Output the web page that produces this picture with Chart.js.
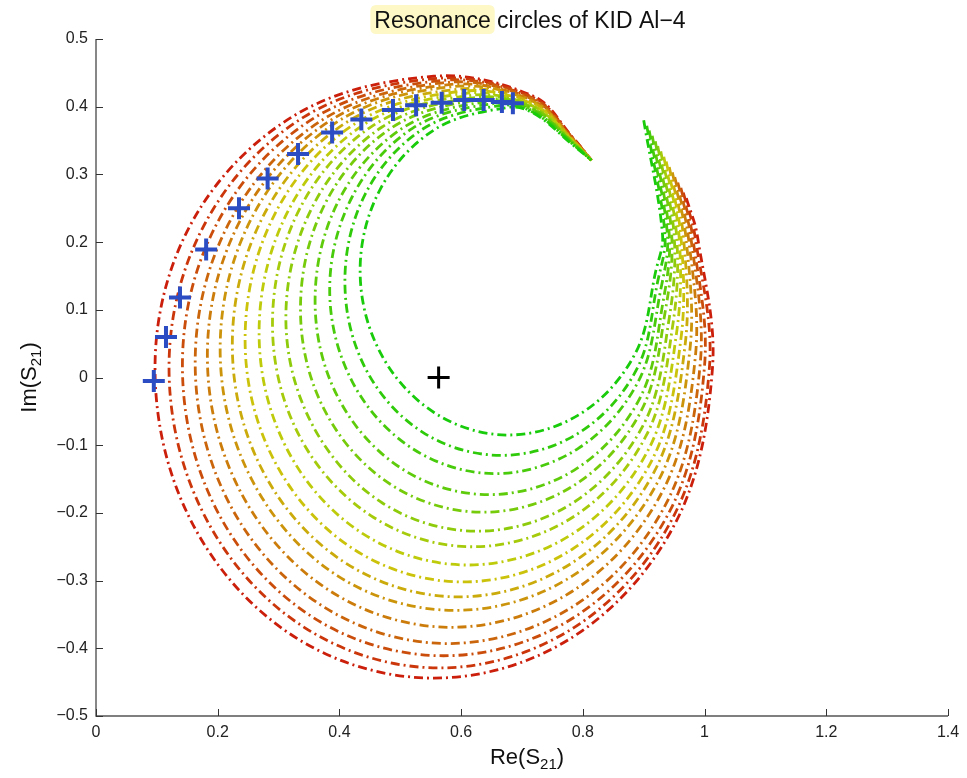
<!DOCTYPE html>
<html>
<head>
<meta charset="utf-8">
<title>Resonance circles of KID Al-4</title>
<script src="https://cdn.jsdelivr.net/npm/chart.js@4.4.1/dist/chart.umd.min.js"></script>
<style>
  html, body { margin: 0; padding: 0; background: #fff; }
  #wrap { width: 967px; height: 778px; }
</style>
</head>
<body>
<div id="wrap"><canvas id="chart" width="967" height="778"></canvas></div>
<script>
// Resonance circles, outer (red) to inner (green)
const circleX = [
  [0.970, 0.988, 1.013, 0.952, 0.784, 0.555, 0.326, 0.158, 0.097, 0.158, 0.326, 0.555, 0.720, 0.783, 0.814],
  [0.965, 0.984, 1.008, 0.948, 0.786, 0.564, 0.342, 0.180, 0.120, 0.180, 0.342, 0.564, 0.720, 0.783, 0.814],
  [0.961, 0.980, 1.000, 0.943, 0.786, 0.571, 0.356, 0.199, 0.142, 0.199, 0.356, 0.571, 0.720, 0.783, 0.814],
  [0.956, 0.977, 0.993, 0.937, 0.786, 0.578, 0.371, 0.219, 0.163, 0.219, 0.371, 0.578, 0.720, 0.783, 0.814],
  [0.951, 0.973, 0.985, 0.931, 0.784, 0.584, 0.384, 0.237, 0.183, 0.237, 0.384, 0.584, 0.720, 0.783, 0.814],
  [0.947, 0.969, 0.976, 0.925, 0.783, 0.590, 0.397, 0.256, 0.204, 0.256, 0.397, 0.590, 0.720, 0.783, 0.814],
  [0.942, 0.965, 0.968, 0.918, 0.782, 0.596, 0.410, 0.274, 0.224, 0.274, 0.410, 0.596, 0.720, 0.783, 0.814],
  [0.937, 0.961, 0.961, 0.913, 0.782, 0.603, 0.424, 0.293, 0.245, 0.293, 0.424, 0.603, 0.720, 0.783, 0.814],
  [0.933, 0.958, 0.954, 0.908, 0.783, 0.611, 0.439, 0.314, 0.268, 0.314, 0.439, 0.611, 0.720, 0.783, 0.814],
  [0.928, 0.954, 0.948, 0.904, 0.784, 0.619, 0.455, 0.334, 0.290, 0.334, 0.455, 0.619, 0.720, 0.783, 0.814],
  [0.923, 0.950, 0.942, 0.900, 0.784, 0.627, 0.470, 0.355, 0.312, 0.355, 0.470, 0.627, 0.720, 0.783, 0.814],
  [0.919, 0.946, 0.936, 0.896, 0.786, 0.636, 0.486, 0.376, 0.336, 0.376, 0.486, 0.636, 0.720, 0.783, 0.814],
  [0.914, 0.942, 0.932, 0.894, 0.789, 0.646, 0.503, 0.398, 0.360, 0.398, 0.503, 0.646, 0.720, 0.783, 0.814],
  [0.909, 0.939, 0.928, 0.891, 0.792, 0.656, 0.520, 0.421, 0.384, 0.421, 0.520, 0.656, 0.720, 0.783, 0.814],
  [0.905, 0.935, 0.923, 0.889, 0.795, 0.666, 0.537, 0.443, 0.409, 0.443, 0.537, 0.666, 0.720, 0.783, 0.814],
  [0.900, 0.931, 0.920, 0.887, 0.799, 0.677, 0.556, 0.467, 0.434, 0.467, 0.556, 0.677, 0.720, 0.783, 0.814]
];
const circleY = [
  [0.265, 0.210, 0.014, -0.215, -0.383, -0.444, -0.383, -0.215, 0.014, 0.230, 0.387, 0.445, 0.415, 0.355, 0.321],
  [0.273, 0.210, 0.015, -0.207, -0.369, -0.429, -0.369, -0.207, 0.015, 0.229, 0.385, 0.442, 0.413, 0.354, 0.321],
  [0.280, 0.210, 0.018, -0.197, -0.354, -0.411, -0.354, -0.197, 0.018, 0.228, 0.382, 0.439, 0.412, 0.354, 0.321],
  [0.288, 0.210, 0.022, -0.186, -0.337, -0.393, -0.337, -0.186, 0.022, 0.229, 0.380, 0.436, 0.410, 0.353, 0.321],
  [0.296, 0.210, 0.032, -0.168, -0.315, -0.369, -0.315, -0.168, 0.032, 0.232, 0.379, 0.433, 0.408, 0.352, 0.321],
  [0.303, 0.210, 0.042, -0.151, -0.293, -0.344, -0.293, -0.151, 0.042, 0.236, 0.378, 0.430, 0.407, 0.352, 0.321],
  [0.311, 0.210, 0.048, -0.138, -0.274, -0.324, -0.274, -0.138, 0.048, 0.237, 0.376, 0.426, 0.405, 0.351, 0.321],
  [0.319, 0.210, 0.056, -0.123, -0.254, -0.302, -0.254, -0.123, 0.056, 0.240, 0.374, 0.423, 0.403, 0.350, 0.321],
  [0.326, 0.210, 0.066, -0.106, -0.231, -0.277, -0.231, -0.106, 0.066, 0.243, 0.373, 0.420, 0.401, 0.349, 0.321],
  [0.334, 0.210, 0.079, -0.086, -0.206, -0.250, -0.206, -0.086, 0.079, 0.248, 0.372, 0.417, 0.400, 0.349, 0.321],
  [0.342, 0.210, 0.088, -0.069, -0.185, -0.227, -0.185, -0.069, 0.088, 0.251, 0.370, 0.414, 0.398, 0.348, 0.321],
  [0.349, 0.210, 0.101, -0.049, -0.159, -0.199, -0.159, -0.049, 0.101, 0.256, 0.369, 0.411, 0.396, 0.347, 0.321],
  [0.357, 0.210, 0.113, -0.030, -0.135, -0.173, -0.135, -0.030, 0.113, 0.260, 0.368, 0.408, 0.395, 0.347, 0.321],
  [0.365, 0.210, 0.130, -0.006, -0.105, -0.142, -0.105, -0.006, 0.130, 0.267, 0.368, 0.405, 0.393, 0.346, 0.321],
  [0.372, 0.210, 0.142, 0.013, -0.081, -0.115, -0.081, 0.013, 0.142, 0.272, 0.367, 0.402, 0.391, 0.345, 0.321],
  [0.380, 0.210, 0.158, 0.037, -0.052, -0.085, -0.052, 0.037, 0.158, 0.278, 0.366, 0.399, 0.390, 0.344, 0.321]
];

// Resonance points (blue +) and circle centre (black +)
const crossX = [0.095, 0.115, 0.138, 0.181, 0.235, 0.282, 0.332, 0.388, 0.436, 0.488, 0.526, 0.568, 0.605, 0.637, 0.667, 0.685];
const crossY = [-0.005, 0.060, 0.118, 0.189, 0.250, 0.294, 0.330, 0.362, 0.381, 0.395, 0.402, 0.406, 0.410, 0.410, 0.407, 0.405];
const centerX = [0.563];
const centerY = [0];

const xTickValues = [0, 0.2, 0.4, 0.6, 0.8, 1, 1.2, 1.4];
const xTickLabels = ['0', '0.2', '0.4', '0.6', '0.8', '1', '1.2', '1.4'];
const yTickValues = [-0.5, -0.4, -0.3, -0.2, -0.1, 0, 0.1, 0.2, 0.3, 0.4, 0.5];
const yTickLabels = ['\u22120.5', '\u22120.4', '\u22120.3', '\u22120.2', '\u22120.1', '0', '0.1', '0.2', '0.3', '0.4', '0.5'];

const titleHi = 'Resonance';
const titleRest = ' circles of KID Al\u22124';
const xLabelParts = [['Re(S', false], ['21', true], [')', false]];
const yLabelParts = [['Im(S', false], ['21', true], [')', false]];

const fam = '"Liberation Sans", Arial, Helvetica, sans-serif';

function toPoints(xs, ys) {
  return xs.map((x, j) => ({ x: x, y: ys[j] }));
}

const datasets = [];
datasets.push({
  label: 'resonance',
  data: toPoints(crossX, crossY),
  showLine: false,
  pointStyle: 'cross',
  pointRadius: 11,
  pointBorderWidth: 4,
  pointBorderColor: '#2b4cc2',
  order: 0
});
datasets.push({
  label: 'centre',
  data: toPoints(centerX, centerY),
  showLine: false,
  pointStyle: 'cross',
  pointRadius: 11,
  pointBorderWidth: 3,
  pointBorderColor: '#000',
  order: 0
});
circleX.forEach((xs, i) => {
  datasets.push({
    label: 'circle ' + (i + 1),
    data: toPoints(xs, circleY[i]),
    showLine: true,
    pointRadius: 0,
    borderColor: 'hsl(' + (6 + 7.33 * i) + ', 90%, 42%)',
    borderWidth: 2.8,
    borderDash: [9, 4, 2, 4],
    tension: 0.35,
    fill: false,
    order: 16 - i
  });
});

function drawParts(ctx, parts, cx, cy) {
  const big = '22px ' + fam, small = '15px ' + fam;
  let total = 0;
  const widths = parts.map(p => {
    ctx.font = p[1] ? small : big;
    const w = ctx.measureText(p[0]).width;
    total += w;
    return w;
  });
  let x = cx - total / 2;
  ctx.textAlign = 'left';
  ctx.textBaseline = 'alphabetic';
  parts.forEach((p, k) => {
    ctx.font = p[1] ? small : big;
    ctx.fillText(p[0], x, cy + (p[1] ? 5 : 0));
    x += widths[k];
  });
}

const matlabLook = {
  id: 'matlabLook',
  afterDraw(chart) {
    const ctx = chart.ctx, a = chart.chartArea;
    const xs = chart.scales.x, ys = chart.scales.y;
    ctx.save();
    // axis lines (box off)
    ctx.strokeStyle = '#555';
    ctx.lineWidth = 1.4;
    ctx.beginPath();
    ctx.moveTo(a.left, a.top);
    ctx.lineTo(a.left, a.bottom);
    ctx.lineTo(a.right, a.bottom);
    ctx.stroke();
    // inward ticks
    ctx.strokeStyle = '#333';
    ctx.lineWidth = 1;
    ctx.beginPath();
    xTickValues.forEach(v => {
      const p = Math.round(xs.getPixelForValue(v)) + 0.5;
      ctx.moveTo(p, a.bottom);
      ctx.lineTo(p, a.bottom - 7);
    });
    yTickValues.forEach(v => {
      const p = Math.round(ys.getPixelForValue(v)) + 0.5;
      ctx.moveTo(a.left, p);
      ctx.lineTo(a.left + 7, p);
    });
    ctx.stroke();

    // title with highlighted first word
    ctx.font = '23px ' + fam;
    const w1 = ctx.measureText(titleHi).width;
    const w2 = ctx.measureText(titleRest).width;
    const x0 = 530 - (w1 + w2) / 2;
    ctx.fillStyle = '#fdf8c6';
    const rx = x0 - 4, ry = 5, rw = w1 + 8, rh = 29, rr = 6;
    ctx.beginPath();
    ctx.moveTo(rx + rr, ry);
    ctx.lineTo(rx + rw - rr, ry);
    ctx.quadraticCurveTo(rx + rw, ry, rx + rw, ry + rr);
    ctx.lineTo(rx + rw, ry + rh - rr);
    ctx.quadraticCurveTo(rx + rw, ry + rh, rx + rw - rr, ry + rh);
    ctx.lineTo(rx + rr, ry + rh);
    ctx.quadraticCurveTo(rx, ry + rh, rx, ry + rh - rr);
    ctx.lineTo(rx, ry + rr);
    ctx.quadraticCurveTo(rx, ry, rx + rr, ry);
    ctx.fill();
    ctx.fillStyle = '#111';
    ctx.textAlign = 'left';
    ctx.textBaseline = 'alphabetic';
    ctx.fillText(titleHi, x0, 28);
    ctx.fillText(titleRest, x0 + w1, 28);

    // axis titles
    ctx.fillStyle = '#111';
    drawParts(ctx, xLabelParts, 527, 764);
    ctx.translate(36, (a.top + a.bottom) / 2);
    ctx.rotate(-Math.PI / 2);
    drawParts(ctx, yLabelParts, 0, 0);
    ctx.restore();
  }
};

new Chart(document.getElementById('chart'), {
  type: 'scatter',
  data: { datasets: datasets },
  options: {
    responsive: false,
    animation: false,
    layout: { padding: { top: 39, right: 19, left: 0, bottom: 0 } },
    plugins: { legend: { display: false }, tooltip: { enabled: false }, title: { display: false } },
    scales: {
      x: {
        type: 'linear',
        min: 0,
        max: 1.4,
        grid: { display: false, drawTicks: false },
        border: { display: false },
        afterBuildTicks: s => { s.ticks = xTickValues.map(v => ({ value: v })); },
        afterFit: s => { s.height = 62; },
        ticks: {
          padding: 7,
          color: '#222',
          font: { family: fam, size: 16 },
          maxRotation: 0,
          callback: v => xTickLabels[xTickValues.findIndex(t => Math.abs(t - v) < 1e-9)]
        }
      },
      y: {
        type: 'linear',
        min: -0.5,
        max: 0.5,
        grid: { display: false, drawTicks: false },
        border: { display: false },
        afterBuildTicks: s => { s.ticks = yTickValues.map(v => ({ value: v })); },
        afterFit: s => { s.width = 96; },
        ticks: {
          padding: 8,
          color: '#222',
          font: { family: fam, size: 16 },
          callback: v => yTickLabels[yTickValues.findIndex(t => Math.abs(t - v) < 1e-9)]
        }
      }
    }
  },
  plugins: [matlabLook]
});
</script>
</body>
</html>
